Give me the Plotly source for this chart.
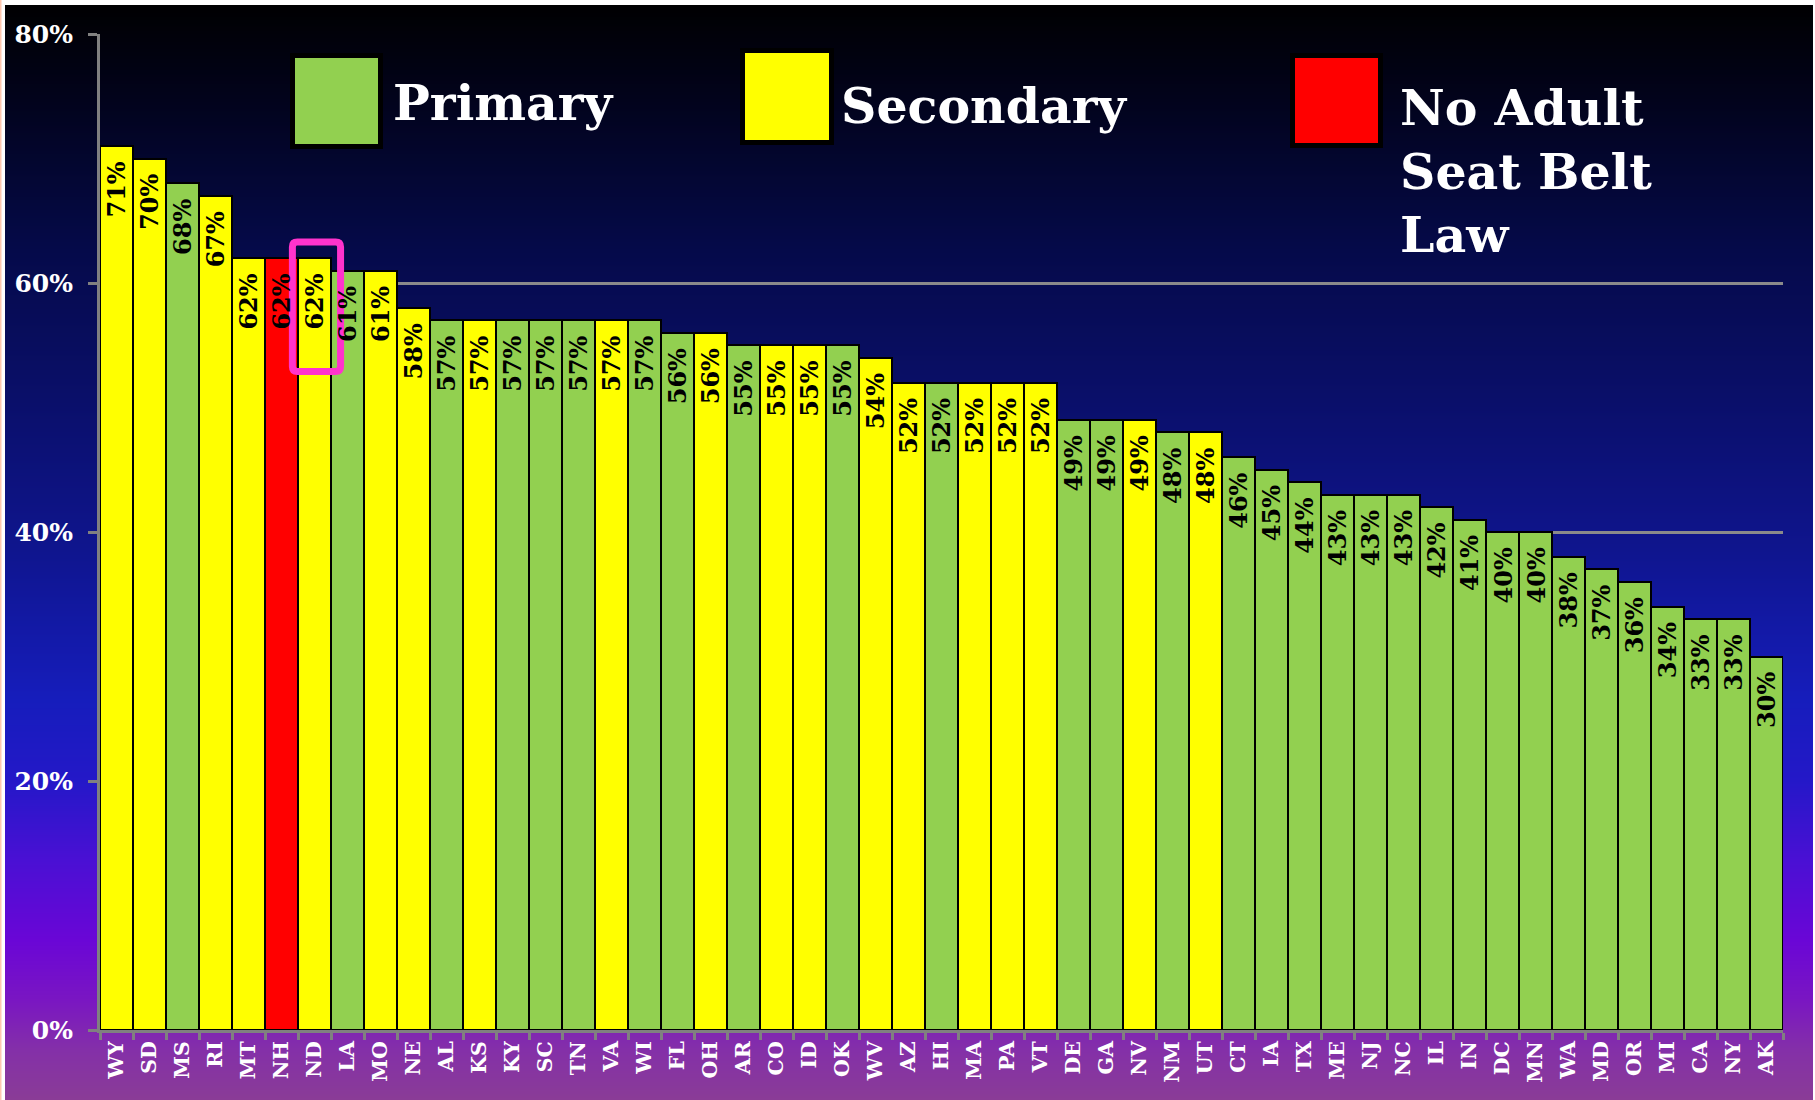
import base64
import struct
import zlib
import plotly.graph_objects as go

# ---------------- data ----------------
states = ["WY", "SD", "MS", "RI", "MT", "NH", "ND", "LA", "MO", "NE", "AL", "KS", "KY",
          "SC", "TN", "VA", "WI", "FL", "OH", "AR", "CO", "ID", "OK", "WV", "AZ", "HI",
          "MA", "PA", "VT", "DE", "GA", "NV", "NM", "UT", "CT", "IA", "TX", "ME", "NJ",
          "NC", "IL", "IN", "DC", "MN", "WA", "MD", "OR", "MI", "CA", "NY", "AK"]
values = [71, 70, 68, 67, 62, 62, 62, 61, 61, 58, 57, 57, 57,
          57, 57, 57, 57, 56, 56, 55, 55, 55, 55, 54, 52, 52,
          52, 52, 52, 49, 49, 49, 48, 48, 46, 45, 44, 43, 43,
          43, 42, 41, 40, 40, 38, 37, 36, 34, 33, 33, 30]
law = ["S", "S", "P", "S", "S", "N", "S", "P", "S", "S", "P", "S", "P",
       "P", "P", "S", "P", "P", "S", "P", "S", "S", "P", "S", "S", "P",
       "S", "S", "S", "P", "P", "S", "P", "S", "P", "P", "P", "P", "P",
       "P", "P", "P", "P", "P", "P", "P", "P", "P", "P", "P", "P"]
y_ticks = [0, 20, 40, 60, 80]
y_tick_labels = ["0%", "20%", "40%", "60%", "80%"]
legend_labels = ["Primary", "Secondary", "No Adult<br>Seat Belt<br>Law"]

law_colors = {"P": "#92d050", "S": "#ffff00", "N": "#ff0000"}
bar_colors = [law_colors[k] for k in law]

FONT = "DejaVu Serif"
W, H = 1815, 1100
PL, PR, PT, PB = 100, 1783, 34, 1030  # plot area in pixels


def px2x(px):
    return (px - PL) / (PR - PL)


def py2y(py):
    return (PB - py) / (PB - PT)


# ---------------- gradient background image ----------------
stops = [(0, (0, 0, 0)), (100, (2, 3, 28)), (250, (5, 10, 74)), (400, (10, 15, 106)),
         (550, (15, 21, 142)), (700, (22, 29, 188)), (780, (36, 24, 200)),
         (860, (74, 16, 212)), (940, (106, 6, 214)), (1000, (122, 22, 194)),
         (1050, (132, 48, 168)), (1100, (138, 60, 150))]


def grad_color(y):
    for (y0, c0), (y1, c1) in zip(stops[:-1], stops[1:]):
        if y0 <= y <= y1:
            t = (y - y0) / (y1 - y0)
            return tuple(int(round(a + (b - a) * t)) for a, b in zip(c0, c1))
    return stops[-1][1]


img_w, img_h = 2, 1095
rows = []
for r in range(img_h):
    c = grad_color(5 + r)
    rows.append(b"\x00" + bytes(c) * img_w)
raw = b"".join(rows)


def chunk(t, d):
    return struct.pack(">I", len(d)) + t + d + struct.pack(">I", zlib.crc32(t + d) & 0xFFFFFFFF)


png = (b"\x89PNG\r\n\x1a\n"
       + chunk(b"IHDR", struct.pack(">IIBBBBB", img_w, img_h, 8, 2, 0, 0, 0))
       + chunk(b"IDAT", zlib.compress(raw, 9))
       + chunk(b"IEND", b""))
bg_src = "data:image/png;base64," + base64.b64encode(png).decode()

# ---------------- figure ----------------
fig = go.Figure()
fig.add_trace(go.Bar(
    x=states, y=values,
    marker=dict(color=bar_colors, line=dict(color="#000000", width=2)),
    hoverinfo="x+y", showlegend=False,
))

annotations = []
for s, v in zip(states, values):
    annotations.append(dict(
        x=s, y=v, xref="x", yref="y", text=f"{v}%", showarrow=False,
        textangle=-90, yanchor="top", xanchor="center", yshift=-14,
        font=dict(family=FONT, size=24, color="#000000", weight="bold"),
    ))

# legend
legend_boxes = [(292.5, 55.5, 380.5, 146.5), (742.5, 50.5, 831.5, 142.5),
                (1292.5, 55.5, 1380.5, 145.5)]
legend_text_pos = [(391, 103), (839, 106), (1398, 172)]
legend_keys = ["P", "S", "N"]
shapes = []
for (x0, y0, x1, y1), k in zip(legend_boxes, legend_keys):
    shapes.append(dict(type="rect", xref="paper", yref="paper",
                       x0=px2x(x0), x1=px2x(x1), y0=py2y(y1), y1=py2y(y0),
                       fillcolor=law_colors[k], line=dict(color="#000000", width=5),
                       layer="above"))
for (tx, ty), lab in zip(legend_text_pos, legend_labels):
    annotations.append(dict(
        x=px2x(tx), y=py2y(ty), xref="paper", yref="paper", text=lab,
        showarrow=False, xanchor="left", yanchor="middle", align="left",
        font=dict(family=FONT, size=49, color="#ffffff", weight="bold"),
    ))

# highlight box around ND (index 6)
bx0, bx1, by0, by1 = 5.33, 6.79, 52.9, 63.3
rx, ry = 0.15, 0.4
path = (f"M {bx0+rx},{by0} L {bx1-rx},{by0} Q {bx1},{by0} {bx1},{by0+ry} "
        f"L {bx1},{by1-ry} Q {bx1},{by1} {bx1-rx},{by1} L {bx0+rx},{by1} "
        f"Q {bx0},{by1} {bx0},{by1-ry} L {bx0},{by0+ry} Q {bx0},{by0} {bx0+rx},{by0} Z")
shapes.append(dict(type="path", xref="x", yref="y", path=path,
                   line=dict(color="#ff33cc", width=7), layer="above"))

# left peach edge
shapes.append(dict(type="rect", xref="paper", yref="paper",
                   x0=px2x(0), x1=px2x(1.5), y0=py2y(1100), y1=py2y(0),
                   fillcolor="#ffc8b0", line=dict(width=0), layer="below"))

fig.update_layout(
    width=W, height=H,
    margin=dict(l=PL, r=W - PR, t=PT, b=H - PB, pad=0),
    paper_bgcolor="#ffffff",
    plot_bgcolor="rgba(0,0,0,0)",
    bargap=0,
    font=dict(family=FONT, color="#ffffff", weight="bold"),
    images=[dict(source=bg_src, xref="paper", yref="paper",
                 x=px2x(5), y=py2y(5), sizex=(1813 - 5) / (PR - PL),
                 sizey=img_h / (PB - PT), xanchor="left", yanchor="top",
                 sizing="stretch", layer="below")],
    shapes=shapes,
    annotations=annotations,
    xaxis=dict(
        type="category", showline=True, linecolor="#808080", linewidth=3,
        ticks="outside", tickson="boundaries", ticklen=7, tickwidth=2.5,
        tickcolor="#808080", tickangle=-90, showgrid=False, zeroline=False,
        tickfont=dict(family=FONT, size=20.5, color="#ffffff", weight="bold"),
        fixedrange=True,
    ),
    yaxis=dict(
        range=[0, 80], tickvals=y_ticks, ticktext=y_tick_labels,
        showline=True, linecolor="#808080", linewidth=3,
        ticks="outside", ticklen=9, tickwidth=3, tickcolor="#808080",
        showgrid=True, gridcolor="#8a8a8a", gridwidth=2.5, zeroline=False,
        ticklabelstandoff=10,
        tickfont=dict(family=FONT, size=25, color="#ffffff", weight="bold"),
        fixedrange=True,
    ),
)

fig.write_html("out.html", config={"displayModeBar": False},
               post_script="document.body.style.margin='0';document.body.style.overflow='hidden';")
